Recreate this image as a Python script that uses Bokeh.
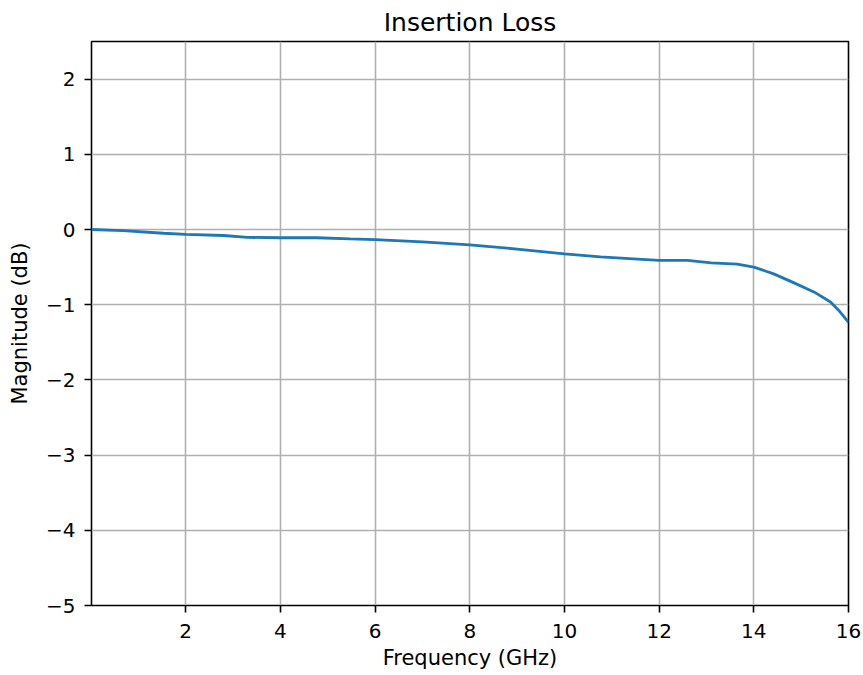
from bokeh.plotting import figure
from bokeh.models import Range1d, FixedTicker
from bokeh.embed import file_html
from bokeh.resources import INLINE

# Data
freq_ghz = [0.01, 0.68, 1.53, 2.0, 2.8, 3.3, 4.0, 4.77, 5.47, 6.0, 7.0, 8.0, 9.0,
            10.0, 10.76, 11.46, 12.0, 12.6, 13.1, 13.65, 14.0, 14.42, 14.85,
            15.27, 15.62, 15.8, 16.0]
magnitude_db = [0.0, -0.015, -0.05, -0.065, -0.08, -0.105, -0.11, -0.11, -0.125,
                -0.135, -0.165, -0.205, -0.26, -0.325, -0.365, -0.39, -0.41,
                -0.41, -0.445, -0.46, -0.5, -0.59, -0.71, -0.83, -0.965, -1.08,
                -1.235]

x_ticks = [2, 4, 6, 8, 10, 12, 14, 16]
y_ticks = [-5, -4, -3, -2, -1, 0, 1, 2]
y_tick_labels = ["\u22125", "\u22124", "\u22123", "\u22122", "\u22121", "0", "1", "2"]

FONT = "DejaVu Sans"

p = figure(
    output_backend="svg",
    toolbar_location=None,
    frame_width=757,
    frame_height=564,
    min_border_left=91,
    min_border_right=15,
    min_border_top=41,
    min_border_bottom=10,
    x_range=Range1d(0.01, 16),
    y_range=Range1d(-5, 2.5),
    title="Insertion Loss",
)

p.line(freq_ghz, magnitude_db, line_color="#1f77b4", line_width=2.8)

# Title
p.title.text_font = FONT
p.title.text_font_size = "25px"
p.title.text_font_style = "normal"
p.title.align = "center"
p.title.vertical_align = "middle"
p.title.text_color = "#000000"
p.title.standoff = 8

# Axes
for ax in (p.xaxis[0], p.yaxis[0]):
    ax.axis_line_color = None
    ax.major_tick_line_color = "#000000"
    ax.major_tick_line_width = 1.6
    ax.major_tick_out = 7
    ax.major_tick_in = 0
    ax.minor_tick_line_color = None
    ax.major_label_text_font = FONT
    ax.major_label_text_font_size = "20px"
    ax.major_label_text_color = "#000000"
    ax.axis_label_text_font = FONT
    ax.axis_label_text_font_size = "21px"
    ax.axis_label_text_font_style = "normal"
    ax.axis_label_text_color = "#000000"

p.xaxis.ticker = FixedTicker(ticks=x_ticks)
p.yaxis.ticker = FixedTicker(ticks=y_ticks)
p.yaxis.major_label_overrides = {t: s for t, s in zip(y_ticks, y_tick_labels)}
p.xaxis.axis_label = "Frequency (GHz)"
p.yaxis.axis_label = "Magnitude (dB)"
p.xaxis.major_label_standoff = 11
p.yaxis.major_label_standoff = 9
p.xaxis.axis_label_standoff = 5
p.yaxis.axis_label_standoff = 11

# Grid
p.xgrid.grid_line_color = "#b0b0b0"
p.ygrid.grid_line_color = "#b0b0b0"
p.xgrid.grid_line_width = 1.6
p.ygrid.grid_line_width = 1.6

# Frame
p.outline_line_color = "#000000"
p.outline_line_width = 1.6
p.outline_line_alpha = 1.0
p.background_fill_color = "#ffffff"
p.border_fill_color = "#ffffff"

open("out.html", "w").write(file_html(p, INLINE))
